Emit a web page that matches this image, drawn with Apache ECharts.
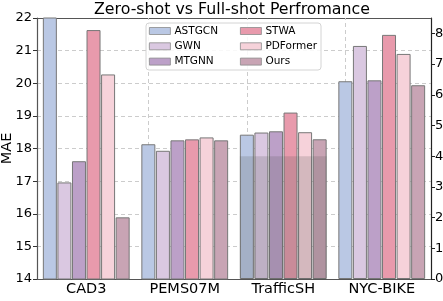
<!DOCTYPE html>
<html>
<head>
<meta charset="utf-8">
<script src="https://cdn.jsdelivr.net/npm/echarts@6/dist/echarts.min.js"></script>
<style>html,body{margin:0;padding:0;background:#fff}#c{width:443px;height:301px}</style>
</head>
<body>
<div id="c"></div>
<script>
var categories = ['CAD3', 'PEMS07M', 'TrafficSH', 'NYC-BIKE'];
// which y axis each category is read on: 0 = left (MAE), 1 = right
var categoryAxis = [0, 0, 1, 1];
var methods = ['ASTGCN', 'GWN', 'MTGNN', 'STWA', 'PDFormer', 'Ours'];
var ASTGCN   = [23.00, 18.13, 4.70, 6.44];
var GWN      = [16.96, 17.93, 4.77, 7.59];
var MTGNN    = [17.61, 18.25, 4.81, 6.47];
var STWA     = [21.63, 18.28, 5.42, 7.95];
var PDFormer = [20.27, 18.34, 4.78, 7.33];
var Ours     = [15.89, 18.25, 4.55, 6.31];
// shaded (zero-shot) part on TrafficSH, right axis
var shaded   = [null, null, 4.0, null];
var leftTicks = [14, 15, 16, 17, 18, 19, 20, 21, 22];
var rightTicks = [0, 1, 2, 3, 4, 5, 6, 7, 8];

var values = [ASTGCN, GWN, MTGNN, STWA, PDFormer, Ours];
var colors = ['#bac8e4', '#dac8e1', '#bca0c8', '#e89aac', '#f6d2da', '#c8a4b4'];
var font = 'DejaVu Sans';

var series = [];
for (var a = 0; a < 2; a++) {
  methods.forEach(function (m, i) {
    var s = {
      name: m, type: 'bar', xAxisIndex: a, yAxisIndex: a,
      data: values[i].map(function (v, k) { return categoryAxis[k] === a ? v : null; }),
      barWidth: 14, barGap: '4%', clip: true, z: 2,
      itemStyle: { color: colors[i], borderColor: '#777777', borderWidth: 1 },
      animation: false
    };
    if (a === 0 && i === 0) {
      s.markLine = {
        silent: true, symbol: 'none', z: 1, animation: false,
        label: { show: false },
        lineStyle: { color: '#cccccc', type: [4, 3], width: 1 },
        data: categories.map(function (c) { return { xAxis: c }; })
      };
    }
    series.push(s);
  });
}
methods.forEach(function (m, i) {
  series.push({
    name: 'shade-' + m, type: 'bar', xAxisIndex: 2, yAxisIndex: 1,
    data: shaded, barWidth: 14, barGap: '4%', z: 3,
    itemStyle: { color: 'rgba(80,80,80,0.2)' }, animation: false
  });
});

var chart = echarts.init(document.getElementById('c'));
chart.setOption({
  animation: false,
  backgroundColor: '#fff',
  textStyle: { fontFamily: font },
  title: {
    text: 'Zero-shot vs Full-shot Perfromance', left: 94, top: 2, padding: 0,
    textStyle: { fontFamily: font, fontSize: 15.8, fontWeight: 'normal', color: '#000' }
  },
  grid: { left: 37, right: 12, top: 18, bottom: 22, containLabel: false, outerBoundsMode: 'none' },
  graphic: [{
    type: 'rect', shape: { x: 146, y: 23, width: 175, height: 47, r: 3 }, z: 10,
    style: { fill: 'rgba(255,255,255,0.85)', stroke: '#d4d4d4', lineWidth: 1 }
  }],
  legend: [0, 1].map(function (col) {
    return {
      data: methods.slice(col * 3, col * 3 + 3),
      orient: 'vertical', left: col === 0 ? 149 : 240, top: 25, padding: 0,
      itemWidth: 21, itemHeight: 7, itemGap: 3.3, z: 11,
      icon: 'rect',
      itemStyle: { borderWidth: 0.8, borderColor: '#8a8a8a' },
      textStyle: { fontFamily: font, fontSize: 10.5, color: '#000', lineHeight: 12, padding: [0, 0, 0, -1] },
      selectedMode: false
    };
  }),
  xAxis: [
    { type: 'category', data: categories, gridIndex: 0, position: 'bottom',
      axisLine: { lineStyle: { color: '#555', width: 1.2 } },
      axisTick: { show: false },
      axisLabel: { fontFamily: font, fontSize: 14.5, color: '#000', margin: 3 },
      splitLine: { show: false } },
    { type: 'category', data: categories, gridIndex: 0, position: 'top',
      axisLine: { lineStyle: { color: '#555', width: 1.2 } },
      axisTick: { show: false }, axisLabel: { show: false }, splitLine: { show: false } },
    { type: 'category', data: categories, gridIndex: 0, show: false }
  ],
  yAxis: [
    { type: 'value', min: 14, max: 22, interval: 1, position: 'left',
      name: 'MAE', nameLocation: 'middle', nameRotate: 90, nameGap: 22, nameMoveOverlap: false,
      nameTextStyle: { fontFamily: font, fontSize: 14.5, color: '#000' },
      axisLine: { show: true, lineStyle: { color: '#555', width: 1.2 } },
      axisTick: { show: true, length: 4, lineStyle: { color: '#333' } },
      axisLabel: { fontFamily: font, fontSize: 13, color: '#000', margin: 5,
        customValues: leftTicks },
      splitLine: { show: true, lineStyle: { color: '#cccccc', type: [4, 3], width: 1 } } },
    { type: 'value', min: 0, max: 8.5, interval: 1, position: 'right',
      axisLine: { show: true, lineStyle: { color: '#222', width: 1.2 } },
      axisTick: { show: true, length: 4, lineStyle: { color: '#222' }, customValues: rightTicks },
      axisLabel: { fontFamily: font, fontSize: 13, color: '#000', margin: 4,
        customValues: rightTicks,
        formatter: function (v) { return v > 8 ? '' : String(v); } },
      splitLine: { show: false } }
  ],
  series: series
});
</script>
</body>
</html>
